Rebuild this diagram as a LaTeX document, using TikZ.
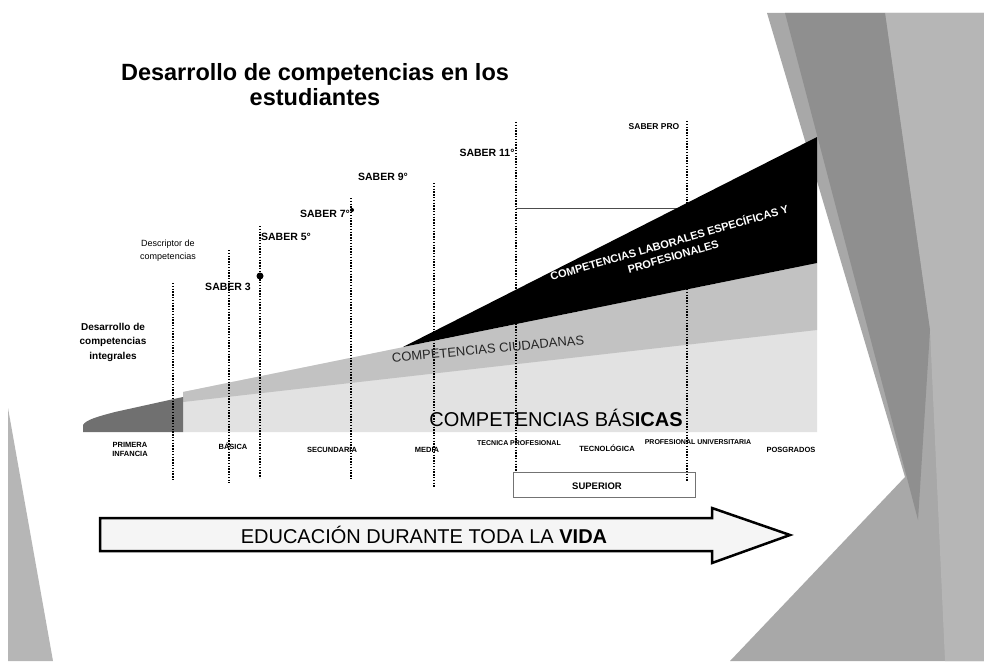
\documentclass[tikz,border=0pt]{standalone}
\usepackage{fontspec}
\setmainfont{Liberation Sans}
\usetikzlibrary{positioning}

\definecolor{fondo}{HTML}{A8A8A8}
\definecolor{fondoosc}{HTML}{8F8F8F}
\definecolor{fondoclaro}{HTML}{B6B6B6}
\definecolor{infancia}{HTML}{707070}
\definecolor{basicas}{HTML}{E2E2E2}
\definecolor{ciudad}{HTML}{C2C2C2}

\begin{document}
\begin{tikzpicture}[x=1pt,y=-1pt,
        guia/.style={line width=1.1pt, dash pattern=on 1.3pt off 1.5pt},
        saber/.style={font=\bfseries\fontsize{10.5}{12}\selectfont, inner sep=0pt},
        nivel/.style={font=\bfseries\fontsize{7.5}{9}\selectfont, align=center, inner sep=0pt},
        nota/.style={align=center, inner sep=0pt}
    ]
        \useasboundingbox (0,0) rectangle (984,661);
        \fill[white] (0,0) rectangle (984,661);

        % fondo de la diapositiva
        \fill[fondo] (767,13) -- (984,13) -- (984,661) -- (730,661) -- (905,477) -- cycle;
        \fill[fondoclaro] (885,13) -- (984,13) -- (984,661) -- (945,661) -- (930,330) -- cycle;
        \fill[fondoosc] (785,13) -- (885,13) -- (930,330) -- (918,520) -- cycle;
        \fill[fondoclaro] (8,408) -- (53,661) -- (8,661) -- cycle;

        % franjas de competencias
        \fill[basicas] (183,432) -- (183,392) -- (817,263) -- (817,432) -- cycle;
        \fill[ciudad] (183,392) -- (817,263) -- (817,330) -- (183,402) -- cycle;
        \fill[infancia] (83,432) -- (83,425) .. controls (86,420) and (96,417) .. (115,412)
            -- (183,397) -- (183,432) -- cycle;

        % lineas guia
        \foreach \x/\a/\b [count=\i] in {173/283/481, 229/250/483, 260/226/478, 351/198/480,
                434/183/488, 516/122/472, 687/121/482} {
            \coordinate (t\i) at (\x,\a);
            \coordinate (b\i) at (\x,\b);
            \draw[guia] (t\i) -- (b\i);
        }
        \coordinate (sup1) at (516,208);
        \coordinate (sup2) at (687,208);
        \draw[black!70, line width=0.6pt] (sup1) -- (sup2);
        \fill (260,276) circle (3.5);
        \fill (352,210) circle (2);

        \fill[black] (403,347) -- (817,137) -- (817,263) -- cycle;

        % titulo
        \node[font=\bfseries\fontsize{23.5}{25}\selectfont, align=center] (titulo) at (315,85)
            {Desarrollo de competencias en los\\estudiantes};

        % pruebas saber
        \node[saber] (s3) at (228,287) {SABER 3};
        \node[saber] (s5) at (286,237) {SABER 5°};
        \node[saber] (s7) at (325,214) {SABER 7°};
        \node[saber] (s9) at (383,177) {SABER 9°};
        \node[saber] (s11) at (487,153) {SABER 11°};
        \node[saber, font=\bfseries\fontsize{8.5}{10}\selectfont] (spro) at (654,127) {SABER PRO};

        \node[nota, font=\fontsize{9}{13}\selectfont] (descriptor) at (168,251) {Descriptor de\\competencias};
        \node[nota, font=\bfseries\fontsize{10}{14.5}\selectfont] (integrales) at (113,342)
            {Desarrollo de\\competencias\\integrales};

        % textos de las franjas
        \node[text=white, font=\bfseries\fontsize{11}{14}\selectfont, align=center, rotate=16] (laborales)
            at (671,249) {COMPETENCIAS LABORALES ESPECÍFICAS Y\\PROFESIONALES};
        \node[text=black!85, font=\fontsize{13}{15}\selectfont, rotate=5.4, inner sep=0pt] (ciudadanas)
            at (488,349) {COMPETENCIAS CIUDADANAS};
        \node[font=\fontsize{20}{22}\selectfont, inner sep=0pt] (basicastxt) at (556,418)
            {COMPETENCIAS BÁS\textbf{ICAS}};

        % niveles educativos
        \node[nivel] (infancia) at (130,449) {PRIMERA\\INFANCIA};
        \node[nivel] (basica) at (233,446) {BÁSICA};
        \node[nivel] (secundaria) at (332,450) {SECUNDARIA};
        \node[nivel] (media) at (427,450) {MEDIA};
        \node[nivel, font=\bfseries\fontsize{7}{8}\selectfont] (tecnica) at (519,443) {TECNICA PROFESIONAL};
        \node[nivel] (tecnologica) at (607,448) {TECNOLÓGICA};
        \node[nivel, font=\bfseries\fontsize{7}{8}\selectfont] (universitaria) at (698,442) {PROFESIONAL UNIVERSITARIA};
        \node[nivel] (posgrados) at (791,450) {POSGRADOS};

        \draw[black!55, line width=0.5pt] (513,472) rectangle (695,497);
        \node[nivel, font=\bfseries\fontsize{9.5}{11}\selectfont] (superior) at (597,486) {SUPERIOR};

        % flecha
        \draw[line width=2.5pt, fill=black!4, line join=miter]
            (100,518) -- (712,518) -- (712,508) -- (790,535) -- (712,563) -- (712,551) -- (100,551) -- cycle;
        \node[font=\fontsize{20}{22}\selectfont, inner sep=0pt] (vida) at (424,535)
            {EDUCACIÓN DURANTE TODA LA \textbf{VIDA}};
    \end{tikzpicture}
\end{document}
